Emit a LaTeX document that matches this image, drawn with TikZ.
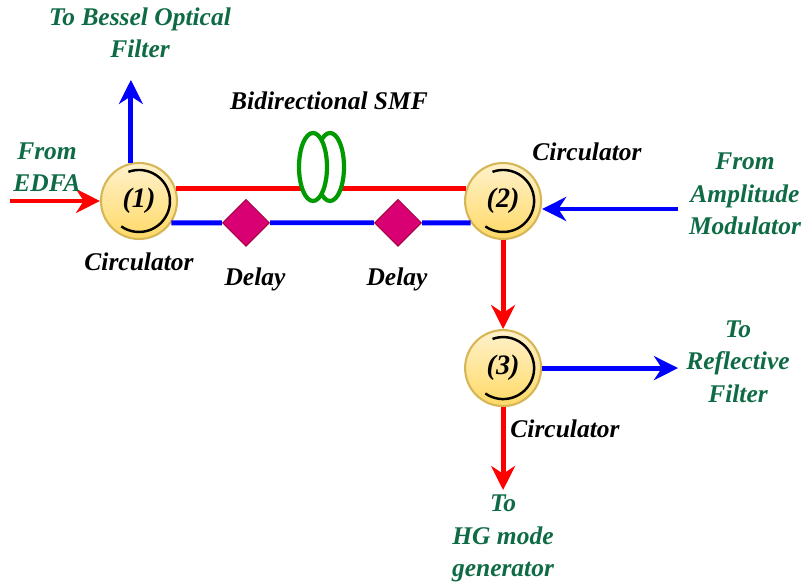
\documentclass[tikz,border=0pt]{standalone}
\usepackage{fontspec}
\setmainfont{Liberation Serif}
\usepackage{xcolor}
\definecolor{labelgreen}{RGB}{15, 107, 69}
\definecolor{goldedge}{RGB}{214, 182, 86}
\definecolor{goldlight}{RGB}{255, 242, 204}
\definecolor{golddark}{RGB}{255, 217, 102}
\definecolor{delayfill}{RGB}{216, 0, 115}
\definecolor{delayedge}{RGB}{165, 0, 64}
\definecolor{coilgreen}{RGB}{0, 153, 0}
\usetikzlibrary{arrows.meta, shapes.geometric, positioning}

\begin{document}
\begin{tikzpicture}[
    node distance=1.78cm and 5.72cm,
    circulator/.style={circle, draw=goldedge, line width=1.2pt, top color=goldlight, bottom color=golddark, minimum size=1.52cm, inner sep=0pt, font=\fontsize{16}{18}\selectfont\bfseries\itshape},
    delay/.style={diamond, draw=delayedge, line width=0.6pt, fill=delayfill, minimum size=0.94cm, inner sep=0pt},
    coil/.style={ellipse, draw=coilgreen, line width=2.4pt, fill=white, minimum width=0.56cm, minimum height=1.36cm, inner sep=0pt},
    blacktext/.style={font=\fontsize{14.5}{18.5}\selectfont\bfseries\itshape, align=center},
    greentext/.style={blacktext, text=labelgreen},
    redline/.style={draw=red, line width=2.8pt},
    blueline/.style={draw=blue, line width=2.8pt},
    redarrow/.style={redline, -{Stealth[length=0.48cm, width=0.48cm]}},
    bluearrow/.style={blueline, -{Stealth[length=0.48cm, width=0.48cm]}},
    turnline/.style={draw=black, line width=1.4pt}
]
\useasboundingbox (0,0) rectangle (16.1,11.7);

% Circulators
\node[circulator] (c1) at (2.78,7.68) {(1)\hspace{0.2cm}};
\node[circulator, right=of c1] (c2) {(2)\hspace{0.26cm}};
\node[circulator, below=of c2] (c3) {(3)\hspace{0.26cm}};
\foreach \c in {c1,c2,c3}{
    \draw[turnline] (\c.center) ++(110:0.62cm) arc[start angle=110, end angle=-125, radius=0.62cm];
}

% Fibre between circulators
\draw[redline] (c1.18) -- (c2.162);
\node[coil] (smf2) at (6.6,8.36) {};
\node[coil] (smf1) at (6.26,8.36) {};
\node[delay] (d1) at (4.92,7.244) {};
\node[delay] (d2) at (7.96,7.244) {};
\draw[blueline] (c1.-34) -- (d1) -- (d2) -- (c2.214);

% Free ends
\coordinate (edfa) at (0.2,7.68);
\coordinate (bessel) at (2.64,10.1);
\coordinate (ampmod) at (13.56,7.52);
\coordinate (reflect) at (13.56,4.34);
\coordinate (hgmode) at (10.04,1.9);

% Connecting Arrows
\draw[redarrow] (edfa) -- (c1.west);
\draw[bluearrow] (c1.102) -- (c1.102 |- bessel);
\draw[bluearrow] (ampmod) -- (ampmod -| c2.east);
\draw[redarrow] (c2.south) -- (c3.north);
\draw[bluearrow] (c3.east) -- (c3.east -| reflect);
\draw[redarrow] (c3.south) -- (c3.south |- hgmode);

% Labels
\node[greentext] (lbessel) at (2.8,11.04) {To Bessel Optical\\Filter};
\node[greentext] (ledfa) at (0.94,8.36) {From\\EDFA};
\node[greentext] (lampmod) at (14.9,7.82) {From\\Amplitude\\Modulator};
\node[greentext] (lreflect) at (14.76,4.47) {To\\Reflective\\Filter};
\node[greentext] (lhgmode) at (10.06,0.93) {To\\HG mode\\generator};
\node[blacktext] (lsmf) at (6.58,9.68) {Bidirectional SMF};
\node[blacktext] (lc1) at (2.78,6.46) {Circulator};
\node[blacktext] (lc2) at (11.74,8.66) {Circulator};
\node[blacktext] (lc3) at (11.3,3.12) {Circulator};
\node[blacktext] (ld1) at (5.1,6.12) {Delay};
\node[blacktext] (ld2) at (7.94,6.12) {Delay};

\end{tikzpicture}
\end{document}
